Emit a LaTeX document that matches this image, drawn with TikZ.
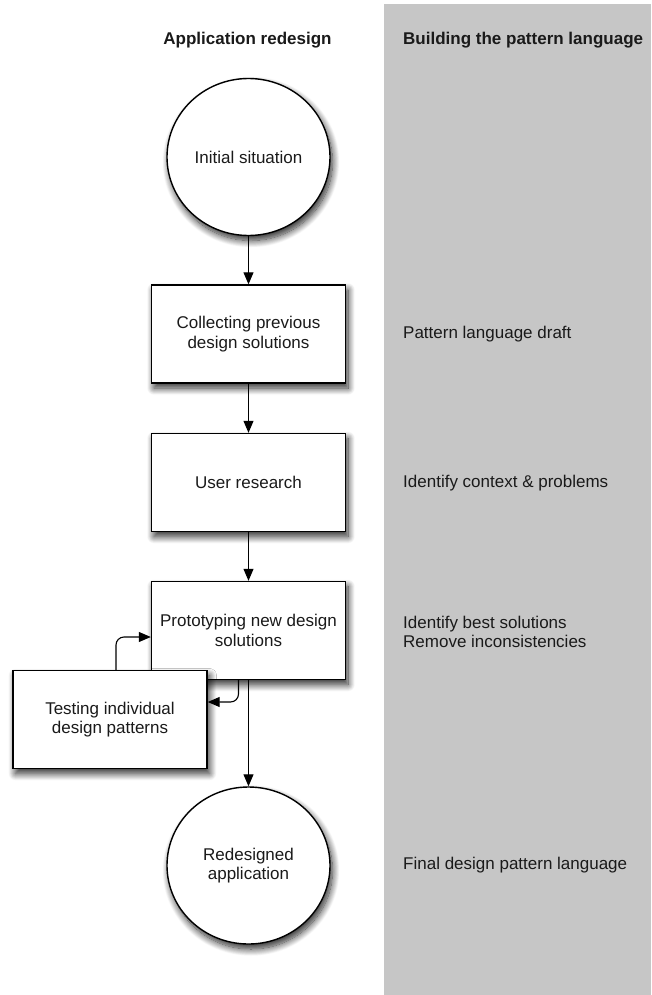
\documentclass[tikz,border=0pt]{standalone}
\usepackage{fontspec}
\setmainfont{Liberation Sans}
\usetikzlibrary{arrows.meta,shadows.blur,shapes.geometric}
\definecolor{panelgray}{HTML}{C6C6C6}
\definecolor{inkc}{HTML}{1A1A1A}
\begin{document}
\begin{tikzpicture}[x=1pt,y=-1pt,
  every node/.style={font=\fontsize{17}{19.5}\selectfont,text=inkc},
  shad/.style={blur shadow={shadow xshift=2.5pt,shadow yshift=-5pt,shadow blur radius=7pt,shadow blur steps=14,shadow opacity=85}},
  procbox/.style={draw,fill=white,line width=1.4pt,minimum width=194pt,minimum height=98pt,align=center,inner sep=0pt,shad},
  term/.style={ellipse,draw,fill=white,line width=1.4pt,minimum width=163pt,minimum height=157pt,align=center,inner sep=0pt,shad},
  arr/.style={-{Triangle[length=12pt,width=10pt]},line width=1.1pt},
  side/.style={anchor=west,align=left,inner sep=0pt},
  head/.style={font=\bfseries\fontsize{17}{19.5}\selectfont,inner sep=0pt}
]
\useasboundingbox (0,0) rectangle (651,995);
\fill[panelgray] (384,4) rectangle (651,995);

\node[head] (h1) at (247.5,40) {Application redesign};
\node[head,anchor=west] (h2) at (403,40) {Building the pattern language};

\node[term] (init) at (248.5,157) {Initial situation};
\node[procbox] (collect) at (248.5,334) {Collecting previous\\design solutions};
\node[procbox] (user) at (248.5,482.5) {User research};
\node[procbox] (proto) at (248.5,630.5) {Prototyping new design\\solutions};
\node[procbox] (test) at (110,719.5) {Testing individual\\design patterns};
\node[term] (final) at (248.5,865.5) {Redesigned\\application};

\draw[arr] (init.south) -- (collect.north);
\draw[arr] (collect.south) -- (user.north);
\draw[arr] (user.south) -- (proto.north);
\draw[arr] (proto.south) -- (final.north);
\draw[arr,rounded corners=8pt] ([xshift=6pt]test.north) |- ([yshift=-6.5pt]proto.west);
\draw[arr,rounded corners=8pt] ([xshift=-10pt]proto.south) |- ([yshift=17.5pt]test.east);

\node[side] (s1) at (403,334) {Pattern language draft};
\node[side] (s2) at (403,483) {Identify context \& problems};
\node[side] (s3) at (403,632) {Identify best solutions\\Remove inconsistencies};
\node[side] (s4) at (403,865) {Final design pattern language};
\end{tikzpicture}
\end{document}
